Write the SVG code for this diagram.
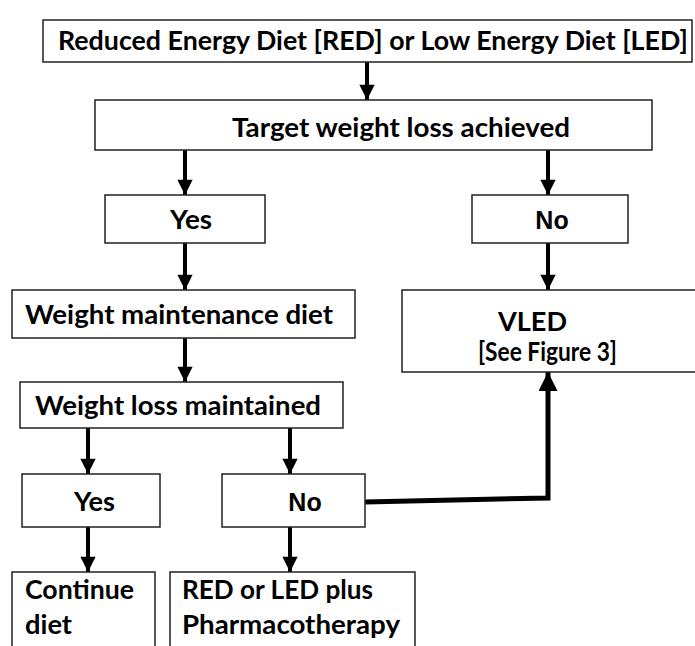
<svg xmlns="http://www.w3.org/2000/svg" width="695" height="646" viewBox="0 0 695 646">
<defs>
<style>
.box{fill:#fff;stroke:#222;stroke-width:1.5}
.t{font-family:Lato,"Open Sans","Liberation Sans",sans-serif;font-weight:700;font-size:26px;fill:#000}
.a{font-family:"Liberation Sans",Arial,sans-serif;font-weight:700;font-size:25px;fill:#000}
.c{stroke:#000;stroke-width:4;fill:none}
</style>
<marker id="ah" viewBox="0 0 10 10" refX="10" refY="5" markerWidth="4" markerHeight="3.8" markerUnits="strokeWidth" orient="auto">
<path d="M0,0 L10,5 L0,10 Z" fill="#000"/>
</marker>
</defs>
<rect width="695" height="646" fill="#fff"/>
<g id="connectors">
<line class="c" x1="367" y1="62" x2="367" y2="100" marker-end="url(#ah)"/>
<line class="c" x1="185" y1="150" x2="185" y2="195" marker-end="url(#ah)"/>
<line class="c" x1="548" y1="150" x2="548" y2="195" marker-end="url(#ah)"/>
<line class="c" x1="185" y1="243" x2="185" y2="290" marker-end="url(#ah)"/>
<line class="c" x1="548" y1="243" x2="548" y2="290" marker-end="url(#ah)"/>
<line class="c" x1="185" y1="338" x2="185" y2="382" marker-end="url(#ah)"/>
<line class="c" x1="88" y1="428" x2="88" y2="474" marker-end="url(#ah)"/>
<line class="c" x1="290" y1="428" x2="290" y2="474" marker-end="url(#ah)"/>
<line class="c" x1="88" y1="527" x2="88" y2="572" marker-end="url(#ah)"/>
<line class="c" x1="290" y1="527" x2="290" y2="572" marker-end="url(#ah)"/>
<polyline class="c" style="stroke-width:5" points="365,502 548,498 548,372" marker-end="url(#ah)"/>
</g>
<g id="n-red">
<rect class="box" x="43" y="20" width="649" height="42"/>
<text class="t" x="58" y="50" textLength="630" lengthAdjust="spacingAndGlyphs">Reduced Energy Diet [RED] or Low Energy Diet [LED]</text>
</g>
<g id="n-target">
<rect class="box" x="95" y="100" width="557" height="50"/>
<text class="t" x="232" y="137" textLength="338" lengthAdjust="spacingAndGlyphs">Target weight loss achieved</text>
</g>
<g id="n-yes1">
<rect class="box" x="105" y="195" width="160" height="48"/>
<text class="t" x="170" y="229" textLength="42" lengthAdjust="spacingAndGlyphs">Yes</text>
</g>
<g id="n-no1">
<rect class="box" x="472" y="195" width="156" height="48"/>
<text class="a" x="552" y="229" text-anchor="middle">No</text>
</g>
<g id="n-wmd">
<rect class="box" x="12" y="290" width="343" height="48"/>
<text class="t" x="25" y="324" textLength="308" lengthAdjust="spacingAndGlyphs">Weight maintenance diet</text>
</g>
<g id="n-vled">
<rect class="box" x="402" y="290" width="300" height="82"/>
<text class="t" x="498" y="331" textLength="69" lengthAdjust="spacingAndGlyphs">VLED</text>
<text class="t" x="478" y="361" textLength="139" lengthAdjust="spacingAndGlyphs">[See Figure 3]</text>
</g>
<g id="n-wlm">
<rect class="box" x="20" y="382" width="323" height="46"/>
<text class="t" x="35" y="415" textLength="286" lengthAdjust="spacingAndGlyphs">Weight loss maintained</text>
</g>
<g id="n-yes2">
<rect class="box" x="22" y="474" width="138" height="53"/>
<text class="t" x="74" y="511" textLength="41" lengthAdjust="spacingAndGlyphs">Yes</text>
</g>
<g id="n-no2">
<rect class="box" x="222" y="474" width="143" height="53"/>
<text class="a" x="305" y="511" text-anchor="middle">No</text>
</g>
<g id="n-continue">
<rect class="box" x="12" y="572" width="143" height="80"/>
<text class="t" x="25" y="599" textLength="109" lengthAdjust="spacingAndGlyphs">Continue</text>
<text class="t" x="25" y="634" textLength="47" lengthAdjust="spacingAndGlyphs">diet</text>
</g>
<g id="n-pharma">
<rect class="box" x="170" y="572" width="245" height="80"/>
<text class="t" x="182" y="599" textLength="191" lengthAdjust="spacingAndGlyphs">RED or LED plus</text>
<text class="t" x="182" y="634" textLength="218" lengthAdjust="spacingAndGlyphs">Pharmacotherapy</text>
</g>
</svg>
